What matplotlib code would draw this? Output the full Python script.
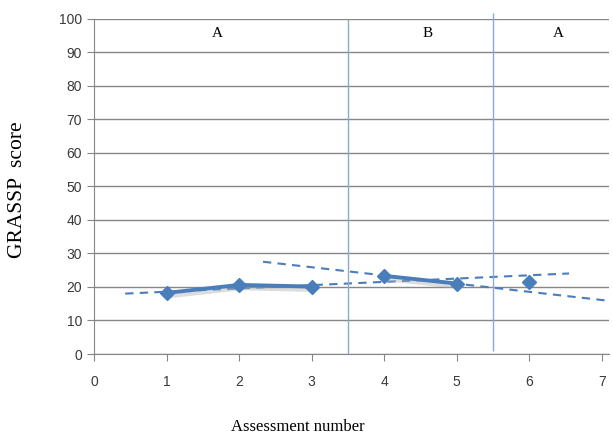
import matplotlib.pyplot as plt
import matplotlib.patheffects as pe

# GRASSP scores per assessment
assess = [1, 2, 3, 4, 5, 6]
score = [18.2, 20.6, 20.1, 23.3, 21.0, 21.6]

# phase segments drawn as solid lines (index ranges)
segments = [(0, 3), (3, 5)]

# dashed trend lines, endpoints
trend1_x = [0.43, 6.55]
trend1_y = [18.0, 24.0]
trend2_x = [2.33, 7.12]
trend2_y = [27.5, 15.8]

# phase changes and labels
phase_lines = [3.5, 5.5]
phase_names = ["A", "B", "A"]
phase_pos = [1.7, 4.6, 6.4]

blue = "#4a7ebb"
grey = "#868686"

fig = plt.figure(figsize=(6.13, 4.41), dpi=100)
ax = fig.add_axes([94 / 613, 87 / 441, 515 / 613, 335.5 / 441])

ax.set_xlim(0, 7.1)
ax.set_ylim(0, 100)
ax.set_xticks(range(8))
ax.set_yticks(range(0, 101, 10))
ax.yaxis.grid(True, color=grey, lw=1)
ax.set_axisbelow(True)

for s in ["top", "right"]:
    ax.spines[s].set_visible(False)
for s in ["left", "bottom"]:
    ax.spines[s].set_color(grey)
ax.tick_params(colors=grey, length=5, labelsize=10, labelcolor="#3a3a3a")
ax.tick_params(axis="x", pad=10)
for lab in ax.get_xticklabels() + ax.get_yticklabels():
    lab.set_family("Liberation Sans")

shadow = [pe.SimpleLineShadow(offset=(1.5, -2.5), shadow_color="#aaaaaa", alpha=0.4),
          pe.Normal()]
for a, b in segments:
    ax.plot(assess[a:b], score[a:b], color=blue, lw=2.8, solid_capstyle="round",
            path_effects=shadow, zorder=3)
ax.plot(assess, score, ls="none", marker="D", ms=7, color=blue, zorder=4)

ax.plot(trend1_x, trend1_y, ls=(0, (4, 3)), color=blue, lw=1.5, zorder=2)
ax.plot(trend2_x, trend2_y, ls=(0, (4, 3)), color=blue, lw=1.5, zorder=2, clip_on=False)

ax.vlines(phase_lines[0], 0, 100, color="#8aaad8", lw=1.0, zorder=2)
ax.vlines(phase_lines[1], 1, 101.5, color="#8aaad8", lw=1.0, zorder=2, clip_on=False)

for name, xp in zip(phase_names, phase_pos):
    ax.text(xp, 95.5, name, ha="center", va="center", fontsize=11,
            family="Liberation Serif")

fig.text(18 / 613, 1 - 190 / 441, "GRASSP  score", rotation=90, ha="center",
         va="center", family="Liberation Serif", fontsize=15.5)
fig.text(298 / 613, 1 - 427 / 441, "Assessment number", ha="center", va="center",
         family="Liberation Serif", fontsize=12)

fig.savefig("out.png", dpi=100)
